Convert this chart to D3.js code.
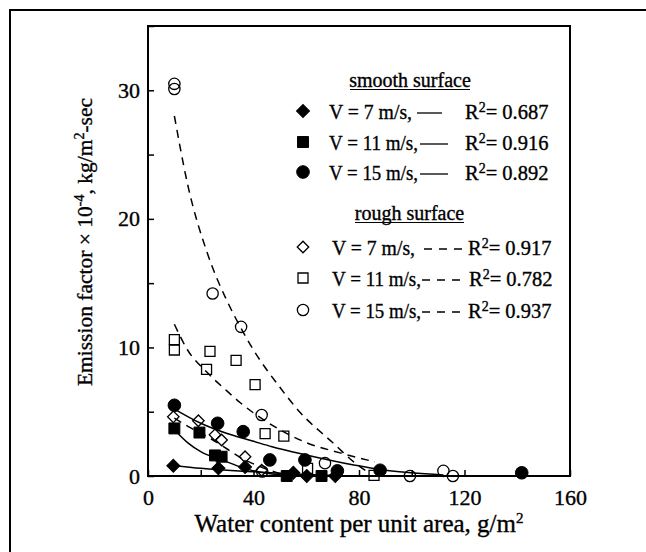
<!DOCTYPE html>
<html>
<head>
<meta charset="utf-8">
<script src="https://cdn.jsdelivr.net/npm/d3@7"></script>
<style>
  body { margin: 0; background: #fff; }
  text { font-family: "Liberation Serif", "Times New Roman", serif; fill: #000; stroke: #000; stroke-width: 0.35px; }
</style>
</head>
<body>
<div id="chart"></div>
<script>
// data: [water content g/m2, emission factor x1e-4]
var smooth7 = [[9.6,0.8],[26.7,0.6],[36.8,0.7],[55.1,0.25],[60.2,0],[71,0]];
var smooth11 = [[10,3.7],[19.5,3.38],[25.4,1.6],[27.9,1.5],[52.6,0],[65.8,0]];
var smooth15 = [[10,5.5],[26.4,4.1],[36.1,3.45],[46.2,1.25],[59.5,1.25],[71.8,0.4],[88,0.45],[141.7,0.25]];
var rough7 = [[9.6,4.6],[19.1,4.3],[25.4,3.2],[27.9,2.8],[36.8,1.5],[43.1,0.45]];
var rough11 = [[10,10.6],[10,9.8],[23.5,9.7],[22.2,8.3],[33.4,9.0],[40.6,7.1],[44.4,3.3],[51.5,3.1],[60.5,0.6],[85.7,0.05]];
var rough15 = [[10,30.5],[10,30.1],[24.5,14.2],[35.3,11.6],[43.1,4.75],[43.3,0.35],[67.1,1.0],[99.3,0],[112,0.4],[115.6,0]];

// fitted curves
var fitSmooth7 = [[10,0.8],[20,0.6],[30,0.45],[40,0.33],[50,0.22],[60,0.12],[70,0.05]];
var fitSmooth11 = [[10,3.6],[15,2.6],[20,1.9],[25,1.45],[30,1.1],[35,0.7],[40,0.4],[50,0.1],[56,0.02]];
var fitSmooth15 = [[10,5.2],[20,4.1],[30,3.3],[40,2.7],[47,2.28],[60,1.64],[78,0.86],[88,0.5],[100,0.25],[112,0.08]];
var fitRough7 = [[10,4.5],[15.3,3.84],[23.5,2.94],[30,2.1],[35.5,1.38],[42.5,0.73],[50,0.2],[53,0.05]];
var fitRough11 = [[10,11.8],[15,9.8],[22.2,8.1],[30,6.6],[35,5.7],[47.5,3.9],[60,2.6],[72.8,1.8],[86,1.1]];
var fitRough15 = [[10,28],[15,22.7],[22.9,17.1],[30,13.6],[35,11.6],[40,9.8],[50,6.9],[57,5.1],[70,2.6],[78,1.1],[84,0.2]];

var xTicks = [0,20,40,60,80,100,120,140,160];
var xLabels = [0,40,80,120,160];
var yTicks = [0,5,10,15,20,25,30,35];
var yLabels = [0,10,20,30];

var legendSpeed = ["V = 7 m/s,", "V = 11 m/s,", "V = 15 m/s,"];
var smoothR2 = ["0.687", "0.916", "0.892"];
var roughR2 = ["0.917", "0.782", "0.937"];

var width = 646, height = 552;
var svg = d3.select("#chart").append("svg")
  .attr("width", width)
  .attr("height", height);

// outer frame
svg.append("rect")
  .attr("x", 10).attr("y", 10)
  .attr("width", 700).attr("height", 700)
  .attr("fill", "none").attr("stroke", "#000").attr("stroke-width", 2);

var x = d3.scaleLinear().domain([0, 160]).range([148, 570]);
var y = d3.scaleLinear().domain([0, 35]).range([476, 26]);

// axes with inward ticks
var xAxis = svg.append("g")
  .attr("transform", "translate(0," + y(0) + ")")
  .call(d3.axisBottom(x).tickValues(xTicks).tickSize(-6).tickPadding(13)
    .tickFormat(function(d){ return xLabels.indexOf(d) >= 0 ? d : ""; }));
var yAxis = svg.append("g")
  .attr("transform", "translate(" + x(0) + ",0)")
  .call(d3.axisLeft(y).tickValues(yTicks).tickSize(-6).tickPadding(8)
    .tickFormat(function(d){ return yLabels.indexOf(d) >= 0 ? d : ""; }));

[xAxis, yAxis].forEach(function(g){
  g.select(".domain").remove();
  g.selectAll(".tick line").attr("stroke", "#000").attr("stroke-width", 1.5);
  g.selectAll(".tick text")
    .style("font-family", "Liberation Serif")
    .style("font-size", "22px")
    .attr("fill", "#000");
});

// plot box
svg.append("rect")
  .attr("x", x(0)).attr("y", y(35))
  .attr("width", x(160) - x(0)).attr("height", y(0) - y(35))
  .attr("fill", "none").attr("stroke", "#000").attr("stroke-width", 2);

// fit lines
var line = d3.line()
  .x(function(d){ return x(d[0]); })
  .y(function(d){ return y(d[1]); })
  .curve(d3.curveMonotoneX);

[fitSmooth7, fitSmooth11, fitSmooth15].forEach(function(f){
  svg.append("path").datum(f).attr("d", line)
    .attr("fill", "none").attr("stroke", "#000").attr("stroke-width", 1.5);
});
[fitRough7, fitRough11, fitRough15].forEach(function(f){
  svg.append("path").datum(f).attr("d", line)
    .attr("fill", "none").attr("stroke", "#000").attr("stroke-width", 1.5)
    .attr("stroke-dasharray", "8,6");
});

// marker helpers
function marker(sel, kind, filled){
  var path;
  if (kind == "diamond") path = d3.symbol().type(d3.symbolSquare).size(filled ? 85 : 66)();
  else if (kind == "square") path = d3.symbol().type(d3.symbolSquare).size(filled ? 120 : 100)();
  else path = d3.symbol().type(d3.symbolCircle).size(filled ? 125 : 100)();
  sel.append("path")
    .attr("d", path)
    .attr("transform", kind == "diamond" ? "rotate(45)" : null)
    .attr("fill", filled ? "#000" : "none")
    .attr("stroke", "#000")
    .attr("stroke-width", filled ? 1 : 1.3);
}

var series = [
  {data: smooth7, kind: "diamond", filled: true},
  {data: smooth11, kind: "square", filled: true},
  {data: smooth15, kind: "circle", filled: true},
  {data: rough7, kind: "diamond", filled: false},
  {data: rough11, kind: "square", filled: false},
  {data: rough15, kind: "circle", filled: false}
];

series.forEach(function(s){
  svg.append("g").selectAll("g")
    .data(s.data)
    .join("g")
    .attr("transform", function(d){ return "translate(" + x(d[0]) + "," + y(d[1]) + ")"; })
    .each(function(){ marker(d3.select(this), s.kind, s.filled); });
});

// legend
function heading(label, yy, x0, x1){
  svg.append("text").attr("x", (x0 + x1) / 2).attr("y", yy)
    .attr("text-anchor", "middle").style("font-size", "20px").text(label);
  svg.append("line").attr("x1", x0).attr("x2", x1)
    .attr("y1", yy + 2.5).attr("y2", yy + 2.5)
    .attr("stroke", "#000").attr("stroke-width", 1.2);
}
heading("smooth surface", 87, 350, 470);
heading("rough surface", 220, 355, 464);

var smoothRows = [119, 150, 180];
var roughRows = [255, 286, 318];
var kinds = ["diamond", "square", "circle"];

function legendRow(i, yy, filled, r2, lineX0, lineX1, rx, dashed){
  var g = svg.append("g").attr("transform", "translate(303," + (yy - 8) + ")");
  marker(g, kinds[i], filled);
  svg.append("text").attr("x", filled ? 329 : 332).attr("y", yy)
    .attr("textLength", i == 0 ? 83 : 89).attr("lengthAdjust", "spacingAndGlyphs")
    .style("font-size", "21px").text(legendSpeed[i]);
  svg.append("line").attr("x1", lineX0).attr("x2", lineX1)
    .attr("y1", yy - 6).attr("y2", yy - 6)
    .attr("stroke", "#000").attr("stroke-width", 1.3)
    .attr("stroke-dasharray", dashed ? "8,7" : null);
  var t = svg.append("text").attr("x", rx).attr("y", yy).style("font-size", "20.5px");
  t.append("tspan").text("R");
  t.append("tspan").attr("dy", -7).style("font-size", "14px").text("2");
  t.append("tspan").attr("dy", 7).text("= " + r2);
}
legendRow(0, smoothRows[0], true, smoothR2[0], 417, 442, 465, false);
legendRow(1, smoothRows[1], true, smoothR2[1], 420, 448, 465, false);
legendRow(2, smoothRows[2], true, smoothR2[2], 420, 448, 465, false);
legendRow(0, roughRows[0], false, roughR2[0], 424, 463, 468, true);
legendRow(1, roughRows[1], false, roughR2[1], 422, 463, 469, true);
legendRow(2, roughRows[2], false, roughR2[2], 422, 463, 468, true);

// axis titles
var xt = svg.append("text").attr("x", 359).attr("y", 532)
  .attr("text-anchor", "middle").style("font-size", "25px");
xt.append("tspan").text("Water content per unit area, g/m");
xt.append("tspan").attr("dy", -9).style("font-size", "15px").text("2");

var yt = svg.append("text")
  .attr("transform", "translate(92,242) rotate(-90)")
  .attr("text-anchor", "middle").style("font-size", "21.5px");
yt.append("tspan").text("Emission factor \u00d7 10");
yt.append("tspan").attr("dy", -8).style("font-size", "14px").text("-4");
yt.append("tspan").attr("dy", 8).text(", kg/m");
yt.append("tspan").attr("dy", -8).style("font-size", "14px").text("2");
yt.append("tspan").attr("dy", 8).text("-sec");
</script>
</body>
</html>
